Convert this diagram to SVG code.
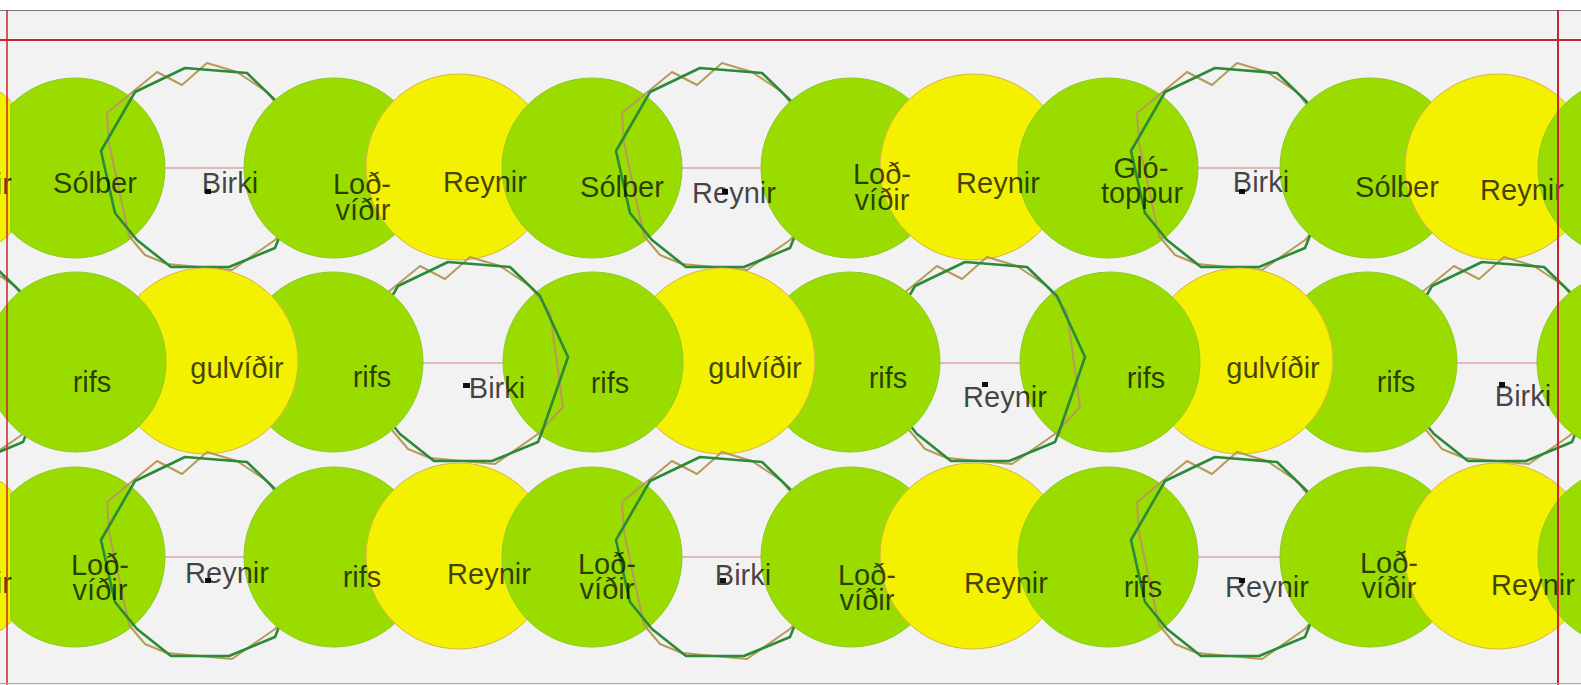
<svg xmlns="http://www.w3.org/2000/svg" xmlns:xlink="http://www.w3.org/1999/xlink" width="1581" height="685" viewBox="0 0 1581 685">
<style>
.g{fill:#9adc00;stroke:#8dca22;stroke-width:1}
.y{fill:#f3f000;stroke:#d6b445;stroke-width:1}
.pg{fill:none;stroke:#2a8a38;stroke-width:2.6;stroke-linejoin:round}
.pt{fill:none;stroke:#b89a58;stroke-width:2;stroke-linejoin:round}
.lbl{font-family:"Liberation Sans",Arial,sans-serif;font-size:29px;fill:#000;fill-opacity:0.72;text-anchor:middle}
.mk{fill:#111}
.guide{stroke:#e2a2a2;stroke-width:1.5}
.red{stroke:#c8252c;fill:none}
</style>
<defs>
<g id="tree">
<polygon class="pt" points="-100,-55 -50,-96 -25,-83 0,-105 30,-96 60,-76 80,-50 93,45 68,72 25,102 -40,96 -62,87 -78,68 -98,-25"/>
<polygon class="pg" points="-72,-76 -22,-100 40,-95 70,-66 98,-5 72,70 68,80 22,99 -36,99 -70,72 -92,45 -106,-17"/>
</g>
<clipPath id="leftClip"><rect x="-200" y="0" width="210" height="685"/></clipPath>
</defs>
<rect x="0" y="0" width="1581" height="685" fill="#ffffff"/>
<rect x="0" y="10" width="1581" height="675" fill="#f2f2f2"/>
<line x1="0" y1="10.5" x2="1581" y2="10.5" stroke="#80747e" stroke-width="1.2"/>
<g id="guides">
<line class="guide" x1="7" y1="168" x2="1558" y2="168"/>
<line class="guide" x1="7" y1="363" x2="1558" y2="363"/>
<line class="guide" x1="7" y1="557" x2="1558" y2="557"/>
</g>
<g id="row1">
<g id="r1-reynir0"><circle class="y" cx="-55" cy="167" r="93"/></g>
<g id="r1-solber1"><circle class="g" cx="75" cy="168" r="90"/></g>
<g id="r1-birki1"><use xlink:href="#tree" x="207" y="168"/></g>
<g id="r1-lodvidir1"><circle class="g" cx="334" cy="168" r="90"/></g>
<g id="r1-reynir1"><circle class="y" cx="459" cy="167" r="93"/></g>
<g id="r1-solber2"><circle class="g" cx="592" cy="168" r="90"/></g>
<g id="r1-reynir2"><use xlink:href="#tree" x="722" y="168"/></g>
<g id="r1-lodvidir2"><circle class="g" cx="851" cy="168" r="90"/></g>
<g id="r1-reynir3"><circle class="y" cx="973" cy="167" r="93"/></g>
<g id="r1-glotoppur"><circle class="g" cx="1108" cy="168" r="90"/></g>
<g id="r1-birki2"><use xlink:href="#tree" x="1237" y="168"/></g>
<g id="r1-solber3"><circle class="g" cx="1370" cy="168" r="90"/></g>
<g id="r1-reynir4"><circle class="y" cx="1498" cy="167" r="93"/></g>
<g id="r1-edge"><circle class="g" cx="1628" cy="168" r="90"/></g>
<g id="r1-reynir0-edge"><circle class="y" cx="-55" cy="167" r="93" clip-path="url(#leftClip)"/></g>
</g>
<g id="row2">
<g id="r2-tree0"><use xlink:href="#tree" x="-45" y="362"/></g>
<g id="r2-birki2"><use xlink:href="#tree" x="1504" y="362"/></g>
<g id="r2-edge"><circle class="g" cx="1627" cy="362" r="90"/></g>
<g id="r2-rifs6"><circle class="g" cx="1367" cy="362" r="90"/></g>
<g id="r2-gulvidir3"><circle class="y" cx="1240" cy="361" r="93"/></g>
<g id="r2-rifs5"><circle class="g" cx="1110" cy="362" r="90"/></g>
<g id="r2-reynir"><use xlink:href="#tree" x="987" y="362"/></g>
<g id="r2-rifs4"><circle class="g" cx="850" cy="362" r="90"/></g>
<g id="r2-gulvidir2"><circle class="y" cx="722" cy="361" r="93"/></g>
<g id="r2-rifs3"><circle class="g" cx="593" cy="362" r="90"/></g>
<g id="r2-birki1"><use xlink:href="#tree" x="470" y="362"/></g>
<g id="r2-rifs2"><circle class="g" cx="333" cy="362" r="90"/></g>
<g id="r2-gulvidir1"><circle class="y" cx="205" cy="361" r="93"/></g>
<g id="r2-rifs1"><circle class="g" cx="76" cy="362" r="90"/></g>
</g>
<g id="row3">
<g id="r3-reynir0"><circle class="y" cx="-55" cy="556" r="93"/></g>
<g id="r3-lodvidir1"><circle class="g" cx="75" cy="557" r="90"/></g>
<g id="r3-reynir1"><use xlink:href="#tree" x="207" y="557"/></g>
<g id="r3-rifs1"><circle class="g" cx="334" cy="557" r="90"/></g>
<g id="r3-reynir2"><circle class="y" cx="459" cy="556" r="93"/></g>
<g id="r3-lodvidir2"><circle class="g" cx="592" cy="557" r="90"/></g>
<g id="r3-birki"><use xlink:href="#tree" x="722" y="557"/></g>
<g id="r3-lodvidir3"><circle class="g" cx="851" cy="557" r="90"/></g>
<g id="r3-reynir3"><circle class="y" cx="973" cy="556" r="93"/></g>
<g id="r3-rifs2"><circle class="g" cx="1108" cy="557" r="90"/></g>
<g id="r3-reynir4"><use xlink:href="#tree" x="1237" y="557"/></g>
<g id="r3-lodvidir4"><circle class="g" cx="1370" cy="557" r="90"/></g>
<g id="r3-reynir5"><circle class="y" cx="1498" cy="556" r="93"/></g>
<g id="r3-edge"><circle class="g" cx="1628" cy="557" r="90"/></g>
<g id="r3-reynir0-edge"><circle class="y" cx="-55" cy="556" r="93" clip-path="url(#leftClip)"/></g>
</g>
<g id="markers">
<rect class="mk" x="205" y="189" width="6" height="5"/>
<rect class="mk" x="722" y="189" width="6" height="5"/>
<rect class="mk" x="1239" y="189" width="6" height="5"/>
<rect class="mk" x="463" y="383" width="7" height="5"/>
<rect class="mk" x="982" y="382" width="6" height="5"/>
<rect class="mk" x="1499" y="382" width="6" height="5"/>
<rect class="mk" x="205" y="578" width="6" height="5"/>
<rect class="mk" x="720" y="578" width="6" height="5"/>
<rect class="mk" x="1239" y="578" width="6" height="5"/>
</g>
<g id="labels">
<text class="lbl" x="-30" y="194">Reynir</text>
<text class="lbl" x="95" y="193">Sólber</text>
<text class="lbl" x="230" y="193">Birki</text>
<text class="lbl" x="362" y="194">Loð-<tspan x="363" dy="26">víðir</tspan></text>
<text class="lbl" x="485" y="192">Reynir</text>
<text class="lbl" x="622" y="197">Sólber</text>
<text class="lbl" x="734" y="203">Reynir</text>
<text class="lbl" x="882" y="184">Loð-<tspan x="882" dy="26">víðir</tspan></text>
<text class="lbl" x="998" y="193">Reynir</text>
<text class="lbl" x="1141" y="178">Gló-<tspan x="1142" dy="25">toppur</tspan></text>
<text class="lbl" x="1261" y="192">Birki</text>
<text class="lbl" x="1397" y="197">Sólber</text>
<text class="lbl" x="1522" y="200">Reynir</text>

<text class="lbl" x="92" y="392">rifs</text>
<text class="lbl" x="237" y="378">gulvíðir</text>
<text class="lbl" x="372" y="387">rifs</text>
<text class="lbl" x="497" y="398">Birki</text>
<text class="lbl" x="610" y="393">rifs</text>
<text class="lbl" x="755" y="378">gulvíðir</text>
<text class="lbl" x="888" y="388">rifs</text>
<text class="lbl" x="1005" y="407">Reynir</text>
<text class="lbl" x="1146" y="388">rifs</text>
<text class="lbl" x="1273" y="378">gulvíðir</text>
<text class="lbl" x="1396" y="392">rifs</text>
<text class="lbl" x="1523" y="406">Birki</text>

<text class="lbl" x="-30" y="593">Reynir</text>
<text class="lbl" x="100" y="575">Loð-<tspan x="100" dy="25">víðir</tspan></text>
<text class="lbl" x="227" y="583">Reynir</text>
<text class="lbl" x="362" y="587">rifs</text>
<text class="lbl" x="489" y="584">Reynir</text>
<text class="lbl" x="607" y="574">Loð-<tspan x="607" dy="25">víðir</tspan></text>
<text class="lbl" x="743" y="585">Birki</text>
<text class="lbl" x="867" y="585">Loð-<tspan x="867" dy="25">víðir</tspan></text>
<text class="lbl" x="1006" y="593">Reynir</text>
<text class="lbl" x="1143" y="597">rifs</text>
<text class="lbl" x="1267" y="597">Reynir</text>
<text class="lbl" x="1389" y="573">Loð-<tspan x="1389" dy="25">víðir</tspan></text>
<text class="lbl" x="1533" y="595">Reynir</text>
</g>
<g id="frame">
<line class="red" x1="0" y1="40" x2="1581" y2="40" stroke-width="2"/>
<line class="red" x1="7" y1="10" x2="7" y2="685" stroke-width="1.5"/>
<line class="red" x1="1558" y1="10" x2="1558" y2="685" stroke-width="2"/>
<line x1="0" y1="683.5" x2="1581" y2="683.5" stroke="#e08e8e" stroke-width="1.2"/>
</g>
</svg>
